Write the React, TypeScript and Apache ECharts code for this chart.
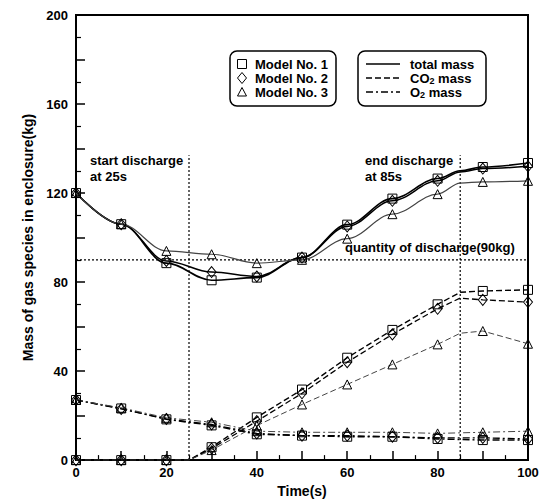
import React, { useEffect, useRef } from "react";
import * as echarts from "echarts";

// Sample times (s)
const time = [0, 10, 20, 30, 40, 50, 60, 70, 80, 90, 100];
const dischargeStart = 25;
const dischargeEnd = 85;
const dischargeQuantity = 90;
const guideTop = 137;

// Total mass (kg)
const totalM1 = [120, 106, 88.5, 80.8, 82, 91, 105.8, 117.5, 126.5, 131.7, 133.5];
const totalM2 = [120, 106, 89.5, 84.5, 82.5, 91, 105, 116.5, 125.5, 131, 132];
const totalM3 = [120, 106, 94, 92.5, 88.5, 90, 99.5, 110.5, 119.5, 125, 125.5];
const totalAtEnd = [130, 129.5, 124.5];

// CO2 mass (kg)
const co2M1 = [0, 0, 0, 5.8, 19.2, 31.7, 46, 58.5, 70, 76, 76.5];
const co2M2 = [0, 0, 0, 5.2, 17.5, 30, 44, 56.5, 68, 72, 71];
const co2M3 = [0, 0, 0, 4.5, 15.5, 25, 34, 43, 52, 58, 52.3];
const co2AtEnd = [75.4, 72.8, 57];

// O2 mass (kg)
const o2M1 = [27, 23.2, 18.3, 15.6, 11.6, 11, 10.5, 10.5, 9.5, 9, 9];
const o2M2 = [27, 23, 18.5, 16, 12, 11, 11, 10.5, 10, 10, 9.5];
const o2M3 = [27, 23.5, 19, 17, 13, 12.5, 12.5, 12.5, 12, 12.5, 13];

const xTicks = [0, 20, 40, 60, 80, 100];
const yTicks = [0, 40, 80, 120, 160, 200];

const FONT = "'Liberation Sans', Arial, sans-serif";

type Extra = [number, number];

function buildData(values: number[], extras: Extra[]) {
  const pts: any[] = time.map((t, i) => ({ value: [t, values[i]] }));
  extras.forEach(([t, v]) => pts.push({ value: [t, v], symbol: "none" }));
  pts.sort((a, b) => a.value[0] - b.value[0]);
  return pts;
}

const models = [
  { symbol: "rect", size: 9, width: 1.4, color: "#000" },
  { symbol: "diamond", size: [9, 11], width: 1.3, color: "#000" },
  { symbol: "triangle", size: 9, width: 1, color: "#444" },
];

export default function App() {
  const ref = useRef<HTMLDivElement>(null);

  useEffect(() => {
    if (!ref.current) return;
    const chart = echarts.init(ref.current, null, { renderer: "svg" });

    const totals = [totalM1, totalM2, totalM3];
    const co2s = [co2M1, co2M2, co2M3];
    const o2s = [o2M1, o2M2, o2M3];

    const series: any[] = [];
    models.forEach((m, k) => {
      const common = {
        type: "line",
        symbol: m.symbol,
        symbolSize: m.size,
        itemStyle: { color: "rgba(255,255,255,0)", borderColor: "#000", borderWidth: 1 },
        z: 3,
      };
      series.push({
        ...common,
        name: `total${k}`,
        smooth: 0.35,
        smoothMonotone: "x",
        lineStyle: { color: m.color, width: m.width + 0.2, type: "solid" },
        data: buildData(totals[k], [[dischargeEnd, totalAtEnd[k]]]),
      });
      series.push({
        ...common,
        name: `co2${k}`,
        lineStyle: { color: m.color, width: m.width, type: [6, 3] },
        data: buildData(co2s[k], [
          [dischargeStart, 0],
          [dischargeEnd, co2AtEnd[k]],
        ]),
      });
      series.push({
        ...common,
        name: `o2${k}`,
        lineStyle: { color: m.color, width: m.width, type: [7, 3, 2, 3] },
        data: buildData(o2s[k], []),
      });
    });

    const guide = (data: number[][]) => ({
      type: "line",
      symbol: "none",
      silent: true,
      lineStyle: { color: "#000", width: 1.2, type: [2, 2] },
      data,
      z: 1,
    });
    series.push(guide([[dischargeStart, 0], [dischargeStart, guideTop]]));
    series.push(guide([[dischargeEnd, 0], [dischargeEnd, guideTop]]));
    series.push(guide([[0, dischargeQuantity], [100, dischargeQuantity]]));

    const txt = { fontFamily: FONT, fontWeight: "bold", fontSize: 13, fill: "#000" };

    const graphic: any[] = [
      // legend box 1
      { type: "rect", shape: { x: 230, y: 51, width: 106, height: 55, r: 7 }, style: { fill: "#fff", stroke: "#000", lineWidth: 1.5 }, z: 10 },
      { type: "rect", shape: { x: 237.5, y: 59.5, width: 9, height: 9 }, style: { fill: "none", stroke: "#000", lineWidth: 1 }, z: 11 },
      { type: "polygon", shape: { points: [[242, 72.5], [246.5, 78], [242, 83.5], [237.5, 78]] }, style: { fill: "none", stroke: "#000", lineWidth: 1 }, z: 11 },
      { type: "polygon", shape: { points: [[242, 87.5], [246.5, 96], [237.5, 96]] }, style: { fill: "none", stroke: "#000", lineWidth: 1 }, z: 11 },
      { type: "text", x: 255, y: 64, style: { ...txt, text: "Model No. 1", textVerticalAlign: "middle" }, z: 11 },
      { type: "text", x: 255, y: 78, style: { ...txt, text: "Model No. 2", textVerticalAlign: "middle" }, z: 11 },
      { type: "text", x: 255, y: 92, style: { ...txt, text: "Model No. 3", textVerticalAlign: "middle" }, z: 11 },
      // legend box 2
      { type: "rect", shape: { x: 358, y: 51, width: 128, height: 55, r: 7 }, style: { fill: "#fff", stroke: "#000", lineWidth: 1.5 }, z: 10 },
      { type: "line", shape: { x1: 366, y1: 64, x2: 400, y2: 64 }, style: { stroke: "#000", lineWidth: 1.6 }, z: 11 },
      { type: "line", shape: { x1: 366, y1: 78, x2: 400, y2: 78 }, style: { stroke: "#000", lineWidth: 1.4, lineDash: [6, 3] }, z: 11 },
      { type: "line", shape: { x1: 366, y1: 92, x2: 400, y2: 92 }, style: { stroke: "#000", lineWidth: 1.4, lineDash: [7, 3, 2, 3] }, z: 11 },
      { type: "text", x: 410, y: 64, style: { ...txt, text: "total mass", textVerticalAlign: "middle" }, z: 11 },
      {
        type: "text", x: 410, y: 78, z: 11,
        style: {
          text: "{a|CO}{s|2}{a| mass}", textVerticalAlign: "middle",
          rich: { a: { ...txt }, s: { ...txt, fontSize: 9, padding: [6, 0, 0, 0] } },
        },
      },
      {
        type: "text", x: 410, y: 92, z: 11,
        style: {
          text: "{a|O}{s|2}{a| mass}", textVerticalAlign: "middle",
          rich: { a: { ...txt }, s: { ...txt, fontSize: 9, padding: [6, 0, 0, 0] } },
        },
      },
      // annotations
      { type: "text", x: 90, y: 152, style: { ...txt, text: "start discharge\nat 25s", lineHeight: 16 }, z: 11 },
      { type: "text", x: 365, y: 152, style: { ...txt, text: "end discharge\nat 85s", lineHeight: 16 }, z: 11 },
      { type: "text", x: 345, y: 247, style: { ...txt, text: "quantity of discharge(90kg)", textVerticalAlign: "middle" }, z: 11 },
    ];

    chart.setOption({
      animation: false,
      backgroundColor: "#fff",
      grid: { left: 76, right: 17, top: 15, bottom: 40, show: true, borderColor: "#000", borderWidth: 2, backgroundColor: "transparent" },
      xAxis: {
        type: "value", min: 0, max: 100, interval: 10,
        name: "Time(s)", nameLocation: "middle", nameGap: 20,
        nameTextStyle: { fontFamily: FONT, fontWeight: "bold", fontSize: 14, color: "#000" },
        axisLine: { lineStyle: { color: "#000", width: 2 } },
        axisTick: { inside: true, length: 9, lineStyle: { color: "#000", width: 1.5 } },
        minorTick: { show: true, splitNumber: 2, length: 5, lineStyle: { color: "#000", width: 1.2 } },
        splitLine: { show: false },
        axisLabel: {
          margin: 6, fontFamily: FONT, fontWeight: "bold", fontSize: 13, color: "#000",
          formatter: (v: number) => (xTicks.includes(v) ? String(v) : ""),
        },
      },
      yAxis: {
        type: "value", min: 0, max: 200, interval: 20,
        name: "Mass of gas species in enclosure(kg)", nameLocation: "middle", nameGap: 40,
        nameTextStyle: { fontFamily: FONT, fontWeight: "bold", fontSize: 14, color: "#000" },
        axisLine: { lineStyle: { color: "#000", width: 2 } },
        axisTick: { inside: true, length: 9, lineStyle: { color: "#000", width: 1.5 } },
        minorTick: { show: true, splitNumber: 2, length: 5, lineStyle: { color: "#000", width: 1.2 } },
        splitLine: { show: false },
        axisLabel: {
          margin: 8, fontFamily: FONT, fontWeight: "bold", fontSize: 13, color: "#000",
          formatter: (v: number) => (yTicks.includes(v) ? String(v) : ""),
        },
      },
      series,
      graphic,
    });

    return () => chart.dispose();
  }, []);

  return (
    <div
      ref={ref}
      style={{ position: "fixed", left: 0, top: 0, width: 545, height: 503, background: "#fff" }}
    />
  );
}
